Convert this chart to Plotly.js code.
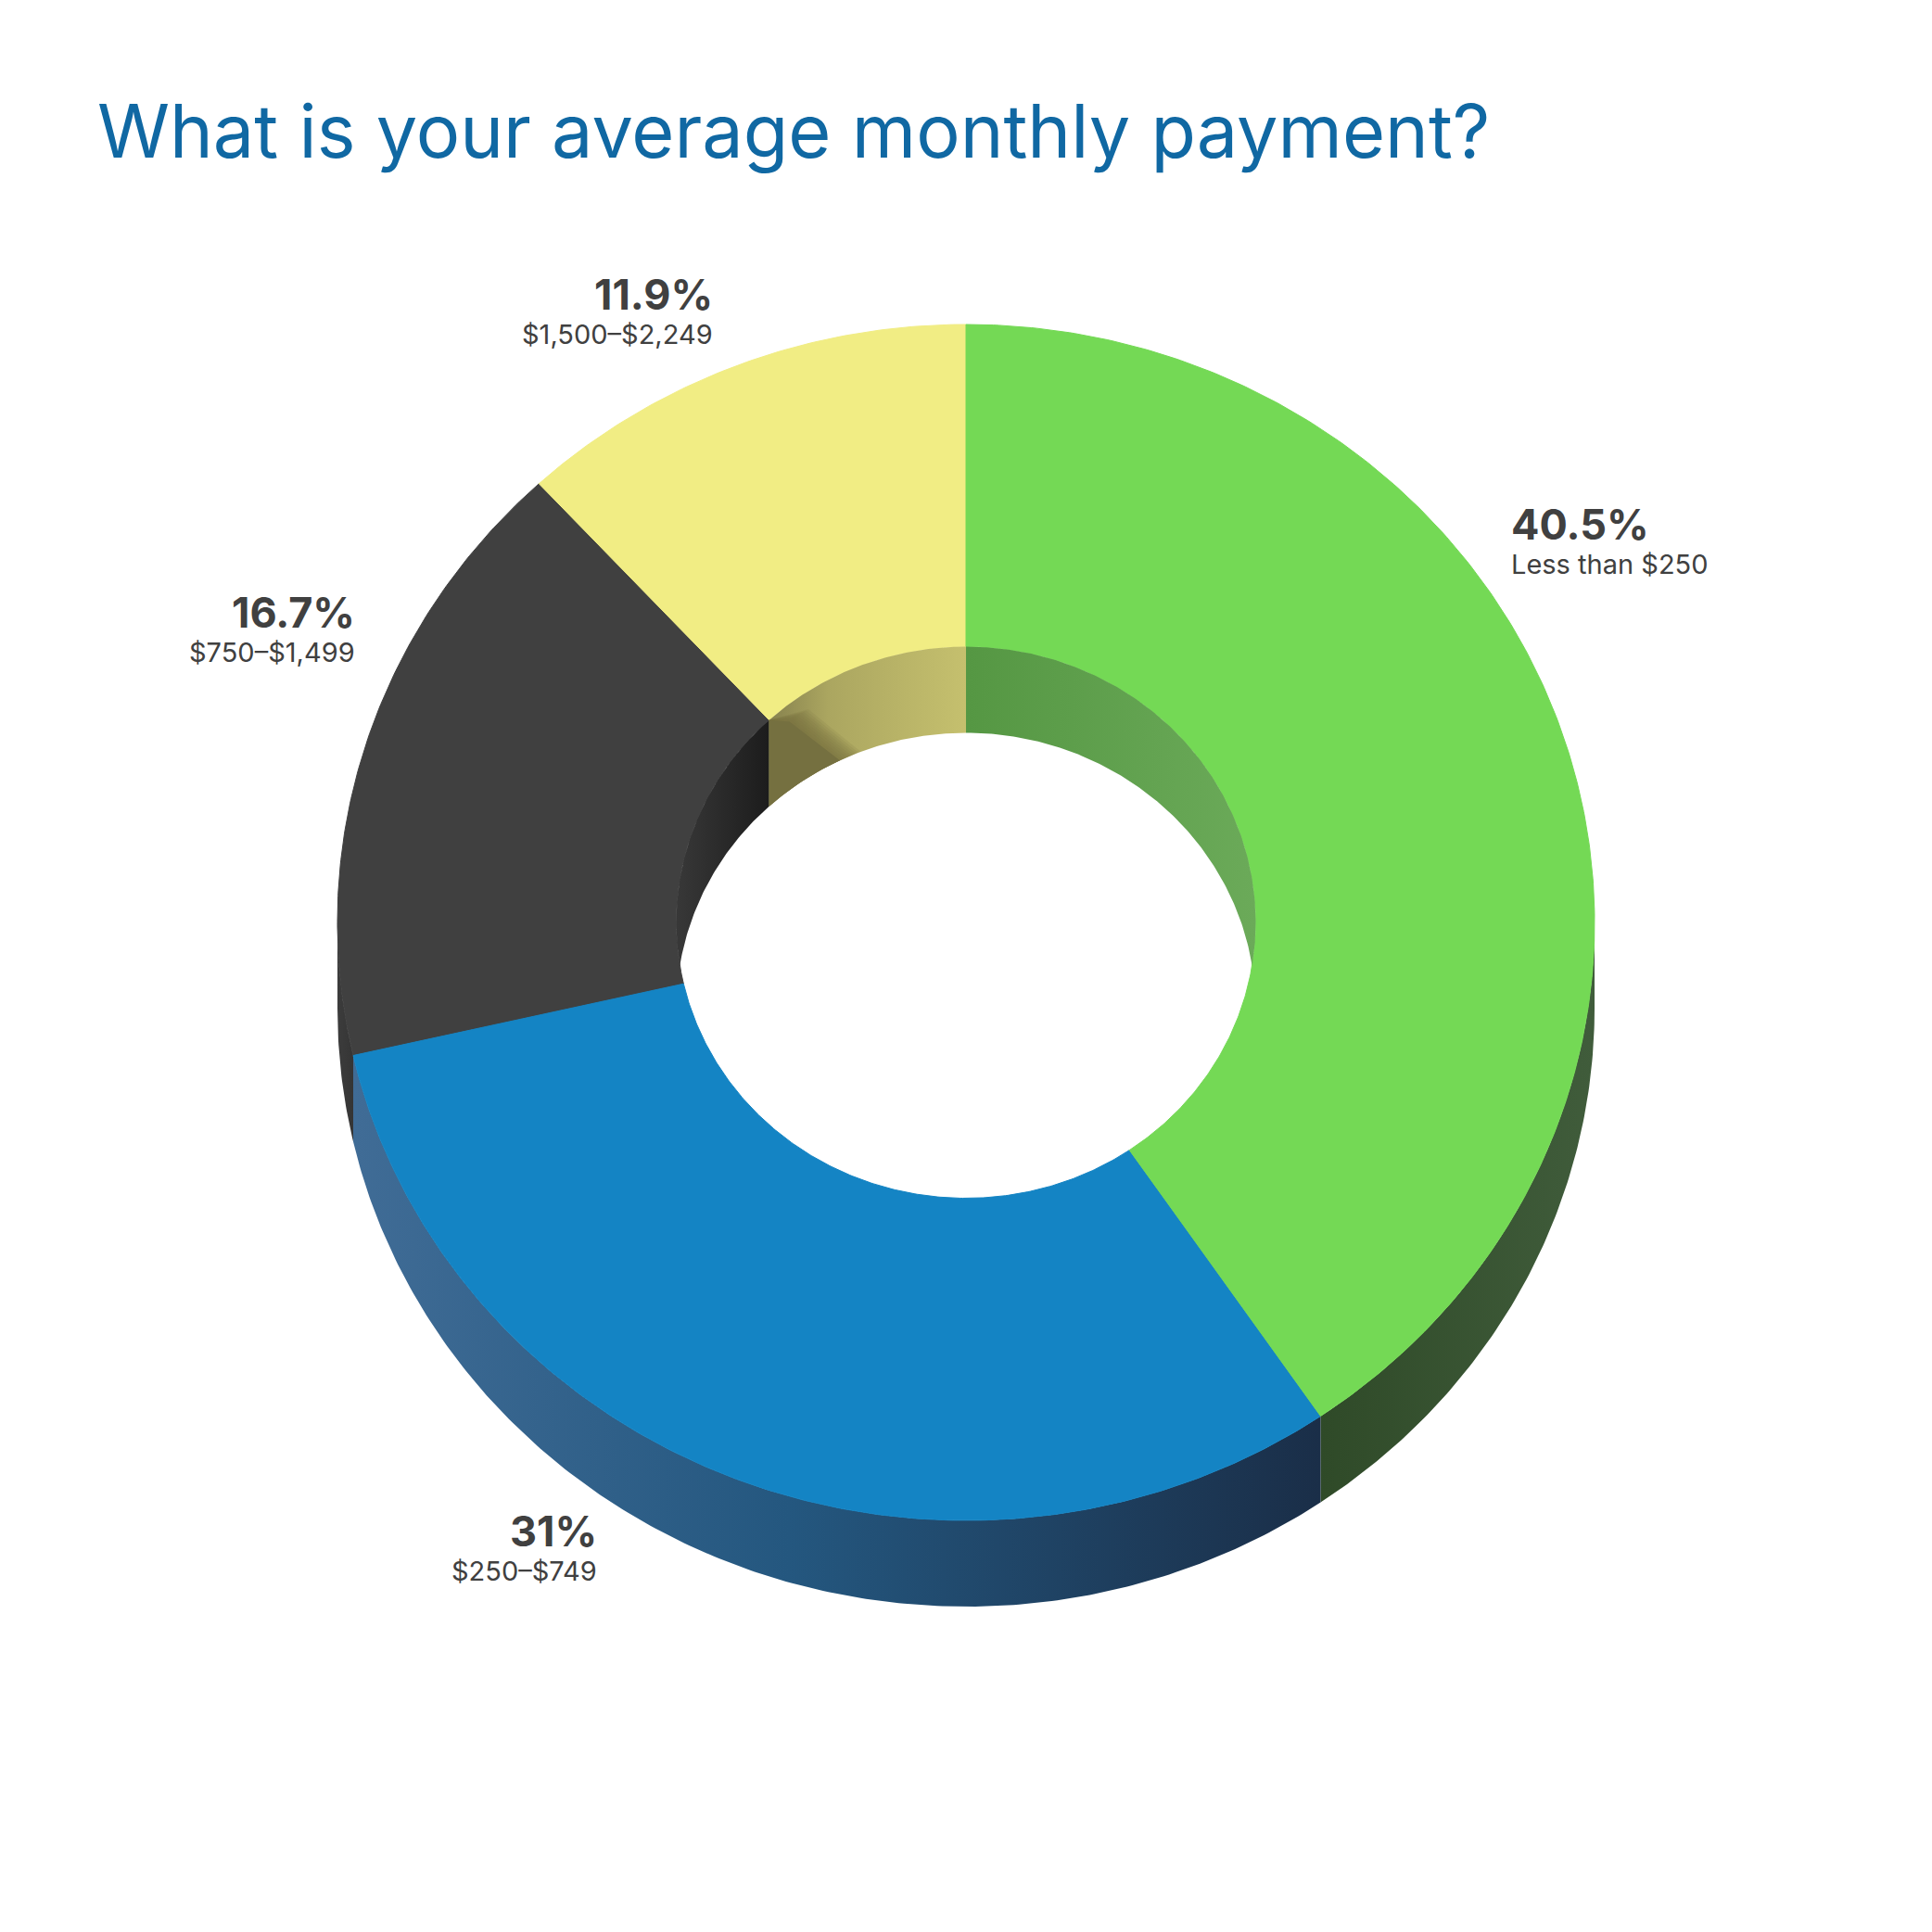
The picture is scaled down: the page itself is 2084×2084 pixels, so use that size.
<!DOCTYPE html>
<html>
<head>
<meta charset="utf-8">
<script src="https://cdn.plot.ly/plotly-3.0.1.min.js"></script>
<style>html,body{margin:0;padding:0;background:#fff}</style>
</head>
<body>
<div id="chart" style="width:2084px;height:2084px"></div>
<script>
// ---- data ----
const chartTitle = "What is your average monthly payment?";
const categories = ["Less than $250", "$250\u2013$749", "$750\u2013$1,499", "$1,500\u2013$2,249"];
const values = [40.5, 31, 16.7, 11.9];

// ---- styles ----
const topColors = ["#74d955", "#1484c4", "#404040", "#f1ed84"];
const outerWallScales = [
  [[0, "#2f4a28"], [1, "#405c3b"]],
  [[0, "#406c96"], [0.45, "#24577f"], [1, "#1a2e48"]],
  [[0, "#3c3c3c"], [1, "#353535"]],
  null
];
const innerWallScales = [
  [[0, "#559743"], [1, "#6baa59"]],
  null,
  [[0, "#383838"], [1, "#1c1c1c"]],
  [[0, "#87824e"], [0.3, "#aba660"], [1, "#c5c06e"]]
];
const labelColor = "#404040";
const titleColor = "#1068a3";

// ---- geometry of the extruded ring (pixel scale of the axes) ----
const G = {cx: 1042, cy: 995, rx: 678, ry: 645, irx: 312.5, iry: 297.5, depth: 93};
const labelPos = [
  {x: 1628, y: 565.5, xa: "left"},
  {x: 646, y: 1651, xa: "right"},
  {x: 385, y: 660, xa: "right"},
  {x: 771, y: 317, xa: "right"}
];

function arc(rx, ry, dy, a0, a1) {
  const xs = [], ys = [];
  const n = Math.max(2, Math.ceil(Math.abs(a1 - a0) * 2));
  for (let i = 0; i <= n; i++) {
    const a = (a0 + (a1 - a0) * i / n) * Math.PI / 180;
    xs.push(G.cx + rx * Math.sin(a));
    ys.push(G.cy + dy - ry * Math.cos(a));
  }
  return [xs, ys];
}
function poly(parts) {
  const x = [], y = [];
  parts.forEach(p => { x.push(...p[0]); y.push(...p[1]); });
  x.push(x[0]); y.push(y[0]);
  return {x, y};
}
function trace(p, opts) {
  return Object.assign({type: "scatter", mode: "lines", x: p.x, y: p.y, fill: "toself",
    hoverinfo: "skip", showlegend: false, line: {width: 0}}, opts);
}
function grad(scale) { return {fillgradient: {type: "horizontal", colorscale: scale}, fillcolor: scale[0][1]}; }

// slice angles, clockwise from 12 o'clock
const total = values.reduce((s, v) => s + v, 0);
const angles = [0];
values.forEach((v, i) => angles.push(angles[i] + v / total * 360));

// the hole's top edge and its shifted copy meet here
const cusp = Math.acos(-(G.depth / 2) / G.iry) * 180 / Math.PI;

const traces = [];
// outer walls (only the part facing the viewer, right to left round the bottom)
[0, 1, 2].forEach(i => {
  const a0 = Math.max(angles[i], 90), a1 = Math.min(angles[i + 1], 270);
  traces.push(trace(poly([arc(G.rx, G.ry, 0, a0, a1), arc(G.rx, G.ry, G.depth, a1, a0)]),
    grad(outerWallScales[i])));
});
// top faces; green last so it owns the seams
[2, 3, 1, 0].forEach(i => {
  traces.push(trace(poly([arc(G.rx, G.ry, 0, angles[i], angles[i + 1]), arc(G.irx, G.iry, 0, angles[i + 1], angles[i])]),
    {fillcolor: topColors[i], line: {width: 1, color: topColors[i]}}));
});
// inner walls seen through the hole
traces.push(trace(poly([arc(G.irx, G.iry, 0, 0, cusp), arc(G.irx, G.iry, G.depth, 180 - cusp, 0)]), grad(innerWallScales[0])));
traces.push(trace(poly([arc(G.irx, G.iry, 0, angles[3], 360), arc(G.irx, G.iry, G.depth, 360, angles[3])]), grad(innerWallScales[3])));
traces.push(trace(poly([arc(G.irx, G.iry, 0, 360 - cusp, angles[3]), arc(G.irx, G.iry, G.depth, angles[3], 180 + cusp)]), grad(innerWallScales[2])));
// soft shaded corner of the yellow inner wall: a solid wedge with translucent ones behind it
function wedge(off) {
  const a = (angles[3] + 5.3 + off) * Math.PI / 180;
  const mid = [[G.cx + G.irx * Math.sin(a)], [G.cy - G.iry * Math.cos(a) + 0.21 * G.depth]];
  const corner = arc(G.irx, G.iry, 0, angles[3], angles[3]);
  return poly([[[corner[0][0]], [corner[1][0]]], mid, arc(G.irx, G.iry, G.depth, angles[3] + 17 + off, angles[3])]);
}
[4.5, 4, 3.5, 3, 2.5, 2, 1.5, 1, 0.5].forEach(off => traces.push(trace(wedge(off), {fillcolor: "rgba(117,112,64,0.14)"})));
traces.push(trace(wedge(0), {fillcolor: "#757040"}));

const annotations = [];
values.forEach((v, i) => {
  const p = labelPos[i];
  annotations.push({xref: "x", yref: "y", x: p.x, y: p.y, xanchor: p.xa, yanchor: "middle", showarrow: false,
    text: "<b>" + v + "%</b>", font: {family: "Inter, 'Open Sans', sans-serif", size: 45, color: labelColor}});
  annotations.push({xref: "x", yref: "y", x: p.x, y: p.y + 43, xanchor: p.xa, yanchor: "middle", showarrow: false,
    text: categories[i], font: {family: "Inter, 'Open Sans', sans-serif", size: 29, color: labelColor}});
});

const layout = {
  width: 2084, height: 2084,
  margin: {l: 0, r: 0, t: 0, b: 0},
  paper_bgcolor: "#ffffff", plot_bgcolor: "#ffffff",
  showlegend: false,
  title: {text: chartTitle, x: 105 / 2084, xanchor: "left", xref: "paper", y: 1 - 142 / 2084, yanchor: "middle", yref: "paper",
    font: {family: "Inter, 'Open Sans', sans-serif", size: 79.2, color: titleColor}},
  xaxis: {range: [0, 2084], visible: false, fixedrange: true},
  yaxis: {range: [2084, 0], visible: false, fixedrange: true},
  annotations
};
Plotly.newPlot("chart", traces, layout, {displayModeBar: false, staticPlot: true});
</script>
</body>
</html>
